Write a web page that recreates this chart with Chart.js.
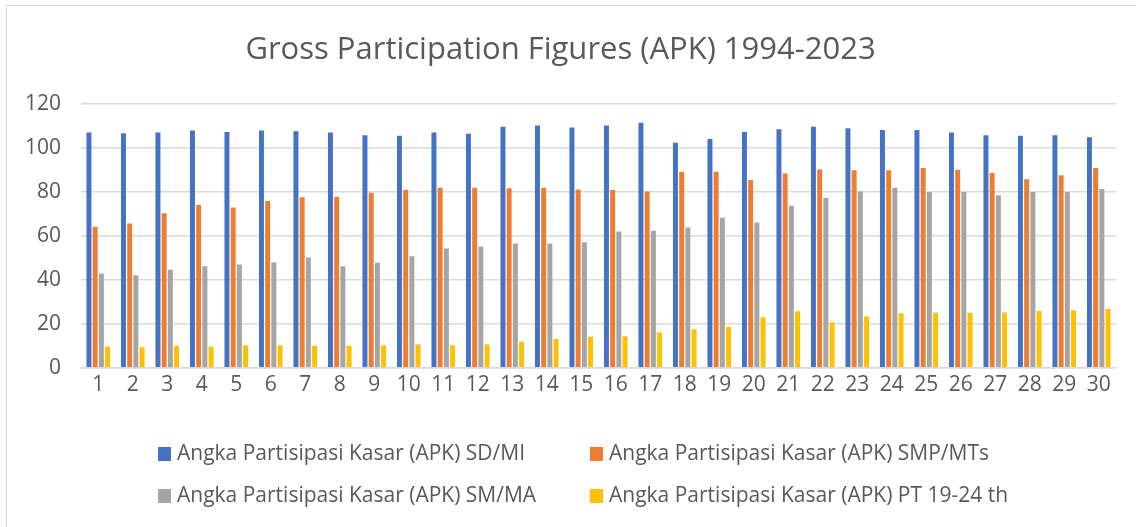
<!DOCTYPE html>
<html>
<head>
<meta charset="utf-8">
<script src="https://cdn.jsdelivr.net/npm/chart.js@4.4.1/dist/chart.umd.min.js"></script>
<style>
    body { margin: 0; background: #fff; overflow: hidden; font-family: 'Open Sans', 'Liberation Sans', sans-serif; }
    #wrap { position: absolute; left: 0; top: 0; width: 1136px; height: 527px; }
    #frame { position: absolute; left: 6px; top: 5px; width: 1200px; height: 600px; border: 1.5px solid #d9d9d9; pointer-events: none; }
    .item { position: absolute; height: 30px; line-height: 30px; font-size: 21px; color: #595959; white-space: nowrap; }
    .item span.kotak { display: inline-block; width: 13px; height: 14px; margin-right: 6px; vertical-align: -1px; }
</style>
</head>
<body>
<div id="wrap"><canvas id="apkChart"></canvas></div>
<div id="legenda"></div>
<div id="frame"></div>
<script>
// tahun ke-1 .. ke-30 (1994-2023)
var kategori = ['1','2','3','4','5','6','7','8','9','10','11','12','13','14','15','16','17','18','19','20','21','22','23','24','25','26','27','28','29','30'];

var apkSD = [107.1, 106.8, 107.1, 108.0, 107.4, 108.0, 107.7, 107.1, 105.9, 105.6, 107.1, 106.5, 109.7, 110.3, 109.4, 110.3, 111.5, 102.4, 104.2, 107.4, 108.6, 109.7, 109.0, 108.3, 108.3, 107.1, 105.9, 105.6, 105.9, 104.9];
var apkSMP = [64.2, 65.7, 70.3, 74.1, 73.0, 75.9, 77.6, 77.9, 79.7, 80.9, 82.0, 82.0, 81.7, 82.0, 81.2, 80.9, 80.3, 89.3, 89.3, 85.5, 88.4, 90.3, 89.9, 89.9, 90.9, 90.2, 88.7, 85.8, 87.6, 90.9];
var apkSM = [42.9, 42.1, 44.6, 46.2, 47.0, 48.1, 50.2, 46.2, 47.8, 50.8, 54.3, 55.2, 56.6, 56.6, 57.2, 62.1, 62.4, 63.9, 68.3, 66.2, 73.8, 77.3, 80.3, 82.0, 80.0, 80.0, 78.5, 80.0, 80.0, 81.4];
var apkPT = [9.7, 9.3, 10.0, 9.6, 10.3, 10.3, 10.0, 10.0, 10.3, 10.6, 10.3, 10.6, 11.9, 13.1, 14.1, 14.4, 16.1, 17.6, 18.6, 23.0, 25.7, 20.7, 23.3, 24.8, 25.1, 25.1, 25.2, 25.9, 26.2, 26.8];

var labelSeri = [
    'Angka Partisipasi Kasar (APK) SD/MI',
    'Angka Partisipasi Kasar (APK) SMP/MTs',
    'Angka Partisipasi Kasar (APK) SM/MA',
    'Angka Partisipasi Kasar (APK) PT 19-24 th'
];
var yTicks = [0, 20, 40, 60, 80, 100, 120];

var warna = ['#4472C4', '#ED7D31', '#A5A5A5', '#FFC000'];
var huruf = "'Open Sans', 'Liberation Sans', sans-serif";

function seri(i, data) {
    return {
        label: labelSeri[i],
        data: data,
        backgroundColor: warna[i],
        borderWidth: 0,
        categoryPercentage: 0.72,
        barPercentage: 0.8
    };
}

var ctx = document.getElementById('apkChart').getContext('2d');
var apkChart = new Chart(ctx, {
    type: 'bar',
    data: {
        labels: kategori,
        datasets: [seri(0, apkSD), seri(1, apkSMP), seri(2, apkSM), seri(3, apkPT)]
    },
    options: {
        responsive: true,
        maintainAspectRatio: false,
        animation: false,
        layout: { padding: { left: 5, right: 20, top: 32, bottom: 132 } },
        plugins: {
            title: {
                display: true,
                text: 'Gross Participation Figures (APK) 1994-2023',
                color: '#595959',
                font: { family: huruf, size: 31, weight: 'normal' },
                padding: { top: 0, bottom: 35 }
            },
            legend: { display: false },
            tooltip: { enabled: false }
        },
        scales: {
            x: {
                grid: { display: false },
                border: { color: '#d9d9d9', width: 1.5 },
                ticks: { color: '#595959', font: { family: huruf, size: 21 }, padding: -3 }
            },
            y: {
                min: 0,
                max: 120,
                afterBuildTicks: function(axis) {
                    axis.ticks = yTicks.map(function(v) { return { value: v }; });
                },
                grid: { color: '#d9d9d9', lineWidth: 1.5, drawTicks: false },
                border: { display: false },
                ticks: { color: '#595959', font: { family: huruf, size: 21 }, padding: 20 }
            }
        }
    }
});

// legenda dua kolom di bawah grafik
var legenda = document.getElementById('legenda');
var kolomX = [158, 590];
var barisY = [437, 479];
apkChart.data.datasets.forEach(function(ds, i) {
    var el = document.createElement('div');
    el.className = 'item';
    el.style.left = kolomX[i % 2] + 'px';
    el.style.top = barisY[Math.floor(i / 2)] + 'px';
    el.innerHTML = '<span class="kotak" style="background:' + ds.backgroundColor + '"></span>' + ds.label;
    legenda.appendChild(el);
});
</script>
</body>
</html>
